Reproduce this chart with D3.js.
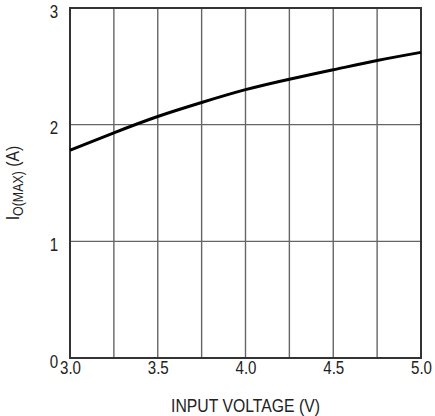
<!DOCTYPE html>
<html>
<head>
<meta charset="utf-8">
<script src="https://cdn.jsdelivr.net/npm/d3@7"></script>
<style>
  body { margin: 0; background: #fff; }
  text { font-family: "Liberation Sans", Arial, sans-serif; fill: #222; }
</style>
</head>
<body>
<div id="chart"></div>
<script>
// input voltage (V) vs max output current (A)
var voltage = [3.0, 3.25, 3.5, 3.75, 4.0, 4.25, 4.5, 4.75, 5.0];
var current = [1.78, 1.93, 2.07, 2.19, 2.30, 2.39, 2.47, 2.55, 2.62];

var xTicks = [3.0, 3.5, 4.0, 4.5, 5.0];
var xGrid = [3.25, 3.5, 3.75, 4.0, 4.25, 4.5, 4.75];
var yTicks = [0, 1, 2, 3];
var yGrid = [1, 2];

var width = 435, height = 416;
var margin = {top: 8, right: 14, bottom: 58, left: 70};
var narrow = 0.84; // no condensed font here, squeeze the glyphs instead

var svg = d3.select("#chart")
  .append("svg")
  .attr("width", width)
  .attr("height", height);

var x = d3.scaleLinear()
  .domain([3.0, 5.0])
  .range([margin.left, width - margin.right]);

var y = d3.scaleLinear()
  .domain([0, 3])
  .range([height - margin.bottom, margin.top]);

// grid
svg.append("g")
  .selectAll("line")
  .data(xGrid)
  .enter()
  .append("line")
  .attr("x1", d => x(d)).attr("x2", d => x(d))
  .attr("y1", y(0)).attr("y2", y(3))
  .attr("stroke", "#666")
  .attr("stroke-width", 1.4);

svg.append("g")
  .selectAll("line")
  .data(yGrid)
  .enter()
  .append("line")
  .attr("x1", x(3.0)).attr("x2", x(5.0))
  .attr("y1", d => y(d)).attr("y2", d => y(d))
  .attr("stroke", "#666")
  .attr("stroke-width", 1.4);

// frame
svg.append("rect")
  .attr("x", x(3.0))
  .attr("y", y(3))
  .attr("width", x(5.0) - x(3.0))
  .attr("height", y(0) - y(3))
  .attr("fill", "none")
  .attr("stroke", "#333")
  .attr("stroke-width", 2);

// axes (labels only)
var xAxis = svg.append("g")
  .attr("transform", "translate(0," + y(0) + ")")
  .call(d3.axisBottom(x).tickValues(xTicks).tickFormat(d3.format(".1f")).tickSize(0).tickPadding(3));

var yAxis = svg.append("g")
  .attr("transform", "translate(" + x(3.0) + ",0)")
  .call(d3.axisLeft(y).tickValues(yTicks).tickFormat(d3.format("d")).tickSize(0).tickPadding(14));

[xAxis, yAxis].forEach(function(a) {
  a.select(".domain").remove();
  a.selectAll("text")
    .attr("font-size", 18)
    .attr("font-family", null)
    .attr("transform", "scale(" + narrow + ",1)");
});
yAxis.selectAll("text").attr("dy", "0.5em");
xAxis.selectAll("text").attr("dy", "0.75em");

// curve
var line = d3.line()
  .x((d, i) => x(voltage[i]))
  .y(d => y(d))
  .curve(d3.curveNatural);

svg.append("path")
  .datum(current)
  .attr("d", line)
  .attr("fill", "none")
  .attr("stroke", "#000")
  .attr("stroke-width", 3);

// axis titles
svg.append("text")
  .attr("transform", "translate(" + (x(3.0) + x(5.0)) / 2 + ",412) scale(0.83,1)")
  .attr("text-anchor", "middle")
  .attr("font-size", 19)
  .text("INPUT VOLTAGE (V)");

var yt = svg.append("text")
  .attr("transform", "translate(19," + (y(0) + y(3)) / 2 + ") rotate(-90) scale(0.83,1)")
  .attr("text-anchor", "middle")
  .attr("font-size", 19);
yt.append("tspan").text("I");
yt.append("tspan").attr("font-size", 15).attr("dy", 4).text("O(MAX)");
yt.append("tspan").attr("dy", -4).text(" (A)");
</script>
</body>
</html>
